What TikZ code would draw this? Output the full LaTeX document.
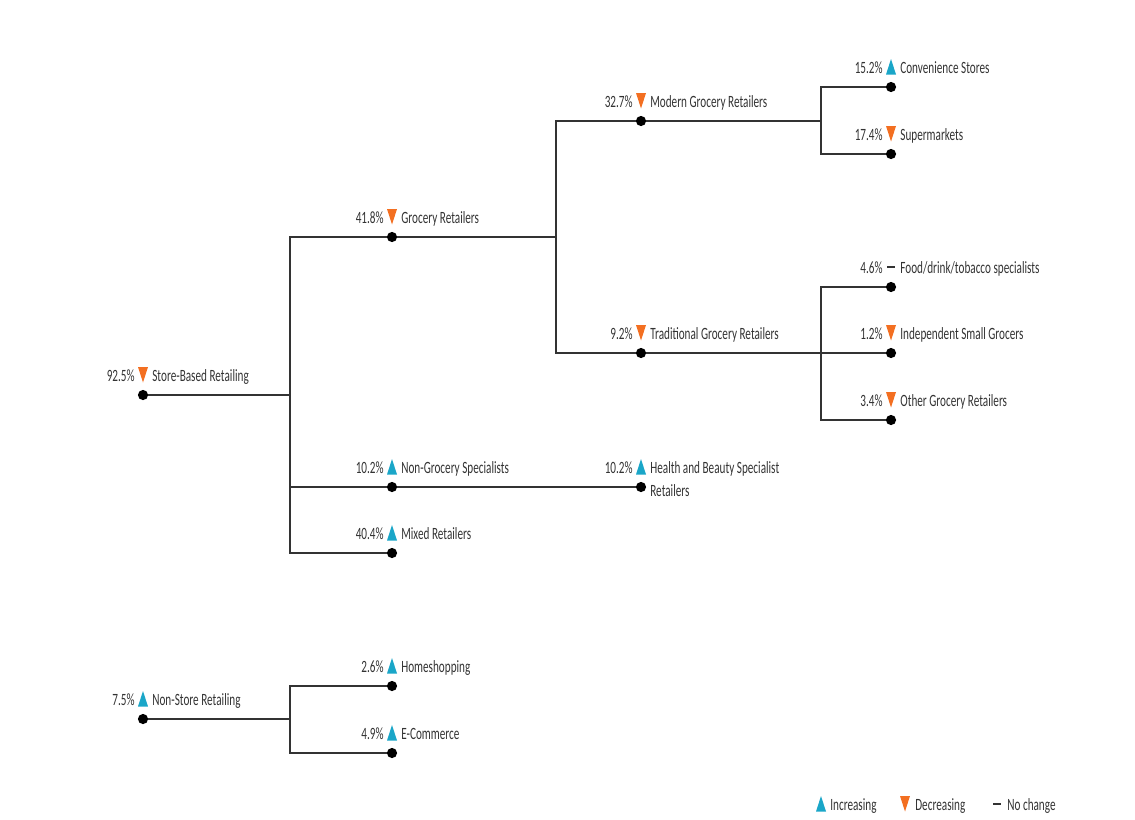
\documentclass[tikz,border=0pt]{standalone}
\usepackage{fontspec}
\setmainfont{Carlito}[FakeStretch=0.65]
\usetikzlibrary{calc}

\definecolor{incc}{HTML}{1AA6C8}
\definecolor{decc}{HTML}{F36F21}
\definecolor{txt}{HTML}{333333}
\definecolor{wire}{HTML}{333333}

% trend markers, drawn just above a dot
\newcommand{\incr}[1]{\fill[incc] ($(#1)+(-5,-12.5)$) -- ($(#1)+(5,-12.5)$) -- ($(#1)+(0,-28)$) -- cycle;}
\newcommand{\decr}[1]{\fill[decc] ($(#1)+(-5,-28)$) -- ($(#1)+(5,-28)$) -- ($(#1)+(0,-12.5)$) -- cycle;}
\newcommand{\nochg}[1]{\fill[txt] ($(#1)+(-4,-19.5)$) rectangle ($(#1)+(4,-21.5)$);}
% percentage, marker and name of one branch
\newcommand{\branchtag}[4]{%
  \node[pct] at ($(#1)+(-8,-14)$) {#2};
  #3{#1}
  \node[lbl] at ($(#1)+(9,-14)$) {#4};}

\begin{document}
\begin{tikzpicture}[
  x=0.02cm, y=-0.02cm,
  dot/.style={circle, fill=black, inner sep=0, minimum size=5.8pt},
  pct/.style={anchor=base east, inner sep=0, text=txt, font=\fontsize{9.8}{13}\selectfont},
  lbl/.style={anchor=base west, inner sep=0, text=txt, align=left, font=\fontsize{9.8}{13}\selectfont},
  link/.style={draw=wire, line width=1pt},
  thin link/.style={draw=wire, line width=0.6pt}
]
\useasboundingbox (0,0) rectangle (1135,819);

% dots
\node[dot] (sbr) at (143,395) {};
\node[dot] (gr)  at (392,237) {};
\node[dot] (mgr) at (641,121) {};
\node[dot] (cs)  at (891,87)  {};
\node[dot] (sm)  at (891,154) {};
\node[dot] (tgr) at (641,353) {};
\node[dot] (fdt) at (891,287) {};
\node[dot] (isg) at (891,353) {};
\node[dot] (ogr) at (891,420) {};
\node[dot] (ngs) at (392,487) {};
\node[dot] (hbs) at (641,487) {};
\node[dot] (mix) at (392,553) {};
\node[dot] (nsr) at (143,719) {};
\node[dot] (hs)  at (392,686) {};
\node[dot] (ec)  at (392,753) {};

% junctions
\coordinate (sbr-j) at (290,395);
\coordinate (gr-j)  at (556,237);
\coordinate (mgr-j) at (821,121);
\coordinate (tgr-j) at (821,353);
\coordinate (nsr-j) at (290,719);

% connectors
\draw[link] (sbr) -- (sbr-j);
\draw[link] (sbr-j) |- (gr);
\draw[link] (sbr-j) |- (ngs);
\draw[link] (sbr-j) |- (mix);
\draw[link] (gr) -- (gr-j);
\draw[link] (gr-j) |- (mgr);
\draw[link] (gr-j) |- (tgr);
\draw[link] (mgr) -- (mgr-j);
\draw[link] (mgr-j) |- (cs);
\draw[link] (mgr-j) |- (sm);
\draw[link] (tgr) -- (tgr-j);
\draw[link] (tgr-j) |- (fdt);
\draw[link] (tgr-j) -- (isg);
\draw[link] (tgr-j) |- (ogr);
\draw[thin link] (ngs) -- (hbs);
\draw[link] (nsr) -- (nsr-j);
\draw[link] (nsr-j) |- (hs);
\draw[thin link] (nsr-j) |- (ec);

% labels
\branchtag{sbr}{92.5\%}{\decr}{Store-Based Retailing}
\branchtag{gr}{41.8\%}{\decr}{Grocery Retailers}
\branchtag{mgr}{32.7\%}{\decr}{Modern Grocery Retailers}
\branchtag{cs}{15.2\%}{\incr}{Convenience Stores}
\branchtag{sm}{17.4\%}{\decr}{Supermarkets}
\branchtag{tgr}{9.2\%}{\decr}{Traditional Grocery Retailers}
\branchtag{fdt}{4.6\%}{\nochg}{Food/drink/tobacco specialists}
\branchtag{isg}{1.2\%}{\decr}{Independent Small Grocers}
\branchtag{ogr}{3.4\%}{\decr}{Other Grocery Retailers}
\branchtag{ngs}{10.2\%}{\incr}{Non-Grocery Specialists}
\branchtag{mix}{40.4\%}{\incr}{Mixed Retailers}
\branchtag{nsr}{7.5\%}{\incr}{Non-Store Retailing}
\branchtag{hs}{2.6\%}{\incr}{Homeshopping}
\branchtag{ec}{4.9\%}{\incr}{E-Commerce}
% two-line name
\node[pct] at ($(hbs)+(-8,-14)$) {10.2\%};
\incr{hbs}
\node[lbl, anchor=north west] at ($(hbs)+(9,-26)$) {Health and Beauty Specialist\\Retailers};

% legend
\coordinate (leg-inc) at (821,824);
\coordinate (leg-dec) at (905,824);
\coordinate (leg-nc)  at (997,824);
\incr{leg-inc}
\node[lbl] (leg-inc-t) at ($(leg-inc)+(9,-14)$) {Increasing};
\decr{leg-dec}
\node[lbl] (leg-dec-t) at ($(leg-dec)+(10,-14)$) {Decreasing};
\nochg{leg-nc}
\node[lbl] (leg-nc-t) at ($(leg-nc)+(10,-14)$) {No change};
\end{tikzpicture}
\end{document}
